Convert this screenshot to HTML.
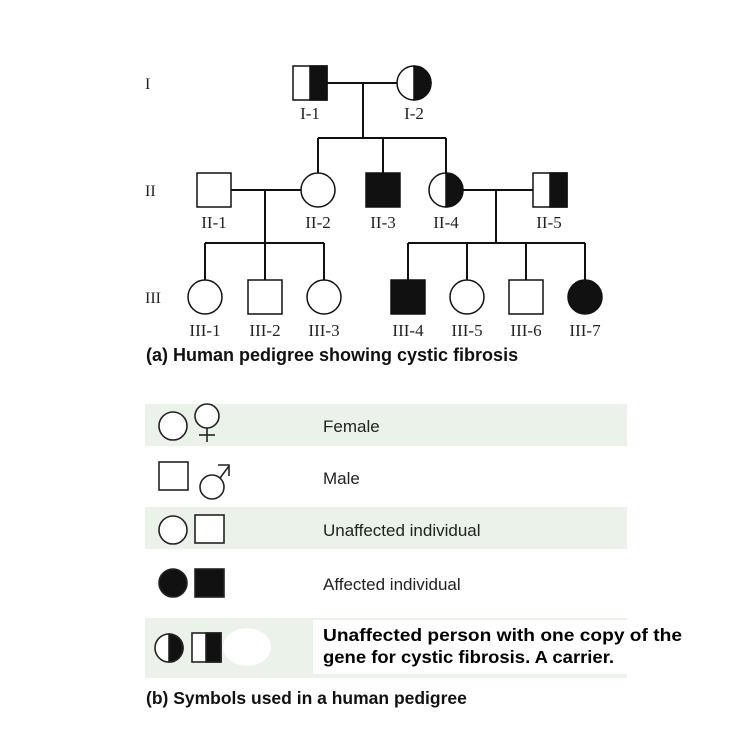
<!DOCTYPE html>
<html><head><style>
body{margin:0;background:#fff;width:752px;height:750px;overflow:hidden}
</style></head><body>
<svg width="752" height="750" xmlns="http://www.w3.org/2000/svg" style="position:absolute;left:0;top:0">
<g stroke="#111" stroke-width="2" fill="none">
<line x1="327" y1="83" x2="397" y2="83"/>
<line x1="363" y1="83" x2="363" y2="138"/>
<line x1="318" y1="138" x2="446" y2="138"/>
<line x1="318" y1="138" x2="318" y2="173"/>
<line x1="383" y1="138" x2="383" y2="173"/>
<line x1="446" y1="138" x2="446" y2="173"/>
<line x1="231" y1="190" x2="301" y2="190"/>
<line x1="265" y1="190" x2="265" y2="243"/>
<line x1="205" y1="243" x2="324" y2="243"/>
<line x1="205" y1="243" x2="205" y2="280"/>
<line x1="265" y1="243" x2="265" y2="280"/>
<line x1="324" y1="243" x2="324" y2="280"/>
<line x1="463" y1="190" x2="533" y2="190"/>
<line x1="496" y1="190" x2="496" y2="243"/>
<line x1="408" y1="243" x2="585" y2="243"/>
<line x1="408" y1="243" x2="408" y2="280"/>
<line x1="467" y1="243" x2="467" y2="280"/>
<line x1="526" y1="243" x2="526" y2="280"/>
<line x1="585" y1="243" x2="585" y2="280"/>
</g>
<g stroke="#111" stroke-width="1.5">
<rect x="293" y="66" width="34" height="34" fill="#fff"/><rect x="310" y="66" width="17" height="34" fill="#111"/>
<circle cx="414" cy="83" r="17" fill="#fff"/><path d="M414 66 A17 17 0 0 1 414 100 Z" fill="#111"/>
<rect x="197" y="173" width="34" height="34" fill="#fff"/>
<circle cx="318" cy="190" r="17" fill="#fff"/>
<rect x="366" y="173" width="34" height="34" fill="#111"/>
<circle cx="446" cy="190" r="17" fill="#fff"/><path d="M446 173 A17 17 0 0 1 446 207 Z" fill="#111"/>
<rect x="533" y="173" width="34" height="34" fill="#fff"/><rect x="550" y="173" width="17" height="34" fill="#111"/>
<circle cx="205" cy="297" r="17" fill="#fff"/>
<rect x="248" y="280" width="34" height="34" fill="#fff"/>
<circle cx="324" cy="297" r="17" fill="#fff"/>
<rect x="391" y="280" width="34" height="34" fill="#111"/>
<circle cx="467" cy="297" r="17" fill="#fff"/>
<rect x="509" y="280" width="34" height="34" fill="#fff"/>
<circle cx="585" cy="297" r="17" fill="#111"/>
</g>
<g font-family="Liberation Serif, serif" font-size="17" fill="#222" text-anchor="middle">
<text x="310" y="119">I-1</text><text x="414" y="119">I-2</text>
<text x="214" y="228">II-1</text><text x="318" y="228">II-2</text><text x="383" y="228">II-3</text><text x="446" y="228">II-4</text><text x="549" y="228">II-5</text>
<text x="205" y="336">III-1</text><text x="265" y="336">III-2</text><text x="324" y="336">III-3</text><text x="408" y="336">III-4</text><text x="467" y="336">III-5</text><text x="526" y="336">III-6</text><text x="585" y="336">III-7</text>
</g>
<g font-family="Liberation Serif, serif" font-size="16" fill="#222">
<text x="145" y="89">I</text><text x="145" y="196">II</text><text x="145" y="303">III</text>
</g>
<text x="146" y="361" font-family="Liberation Sans, sans-serif" font-size="18" font-weight="bold" fill="#111">(a) Human pedigree showing cystic fibrosis</text>
<rect x="145" y="404" width="482" height="42" fill="#eaf2e9"/>
<rect x="145" y="507" width="482" height="42" fill="#eaf2e9"/>
<rect x="145" y="618" width="482" height="60" fill="#eaf2e9"/>
<rect x="313" y="620" width="380" height="54" fill="#fff"/>
<ellipse cx="247" cy="647" rx="24" ry="19" fill="#fff"/>
<g stroke="#222" stroke-width="1.6" fill="#fff">
<circle cx="173" cy="426" r="14"/>
<circle cx="207" cy="416" r="12"/><line x1="207" y1="428" x2="207" y2="442"/><line x1="199" y1="435" x2="215" y2="435"/>
<rect x="159" y="462" width="29" height="28"/>
<circle cx="212" cy="487" r="12"/><line x1="220" y1="478" x2="229" y2="466"/><polyline points="218,465 229,465 229,476" fill="none"/>
<circle cx="173" cy="530" r="14"/>
<rect x="195" y="515" width="29" height="28"/>
<circle cx="173" cy="583" r="14" fill="#111"/>
<rect x="195" y="569" width="29" height="28" fill="#111"/>
<circle cx="169" cy="648" r="14"/><path d="M169 634 A14 14 0 0 1 169 662 Z" fill="#111"/>
<rect x="192" y="633" width="29" height="29"/><rect x="206" y="633" width="15" height="29" fill="#111"/>
</g>
<g font-family="Liberation Sans, sans-serif" font-size="17" fill="#222">
<text x="323" y="432">Female</text>
<text x="323" y="484">Male</text>
<text x="323" y="536">Unaffected individual</text>
<text x="323" y="590">Affected individual</text>
</g>
<g font-family="Liberation Sans, sans-serif" font-size="17.5" font-weight="bold" fill="#000">
<text x="323" y="641" textLength="359" lengthAdjust="spacingAndGlyphs">Unaffected person with one copy of the</text>
<text x="323" y="663" textLength="291" lengthAdjust="spacingAndGlyphs">gene for cystic fibrosis. A carrier.</text>
</g>
<text x="146" y="704" font-family="Liberation Sans, sans-serif" font-size="17.5" font-weight="bold" fill="#111">(b) Symbols used in a human pedigree</text>
</svg>
</body></html>
